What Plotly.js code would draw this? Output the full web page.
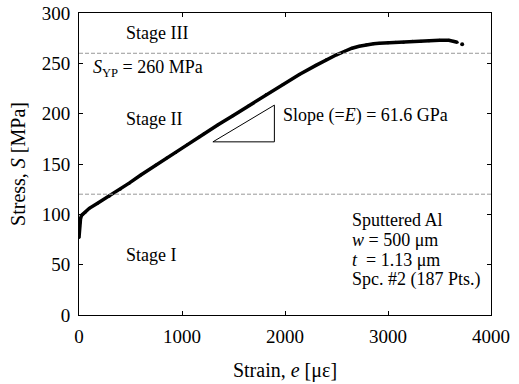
<!DOCTYPE html>
<html><head><meta charset="utf-8">
<script src="https://cdn.plot.ly/plotly-3.0.1.min.js"></script>
<style>html,body{margin:0;padding:0;background:#fff}#chart{width:519px;height:384px}</style>
</head><body><div id="chart"></div>
<script>
const strain = [0, 5, 10, 15, 25, 36, 60, 100, 180, 293, 400, 487, 600, 745, 850, 939, 1050, 1171, 1213, 1350, 1494, 1650, 1817, 1980, 2139, 2300, 2400, 2500, 2580, 2650, 2720, 2790, 2860, 2914, 3000, 3075, 3150, 3236, 3320, 3398, 3500, 3591, 3640, 3672];
const stress = [77, 88, 92, 96, 99, 100, 102, 106, 111, 118, 125, 131, 139, 149, 156, 161.5, 169, 177, 180, 189, 198, 208, 219, 229, 239, 248, 253.5, 258.5, 262, 265, 267, 268.5, 269.5, 270, 270.5, 271, 271, 272, 272, 272.5, 273, 273, 272, 271];
const lastStrain = [3720];
const lastStress = [269];
const stageBounds = [120, 260];
const xRange = [0, 4000];
const yRange = [0, 300];
const xTicks = [0, 1000, 2000, 3000, 4000];
const yTicks = [0, 50, 100, 150, 200, 250, 300];
const triStrain = [1300, 1897, 1897, 1300];
const triStress = [172, 172, 208.5, 172];

const font = {family: 'Liberation Serif, Times New Roman, serif', color: '#000'};
const traces = [
  {x: strain, y: stress, mode: 'lines+markers', line: {color: '#000', width: 3.5}, marker: {color: '#000', size: 3}, hoverinfo: 'skip'},
  {x: lastStrain, y: lastStress, mode: 'markers', marker: {color: '#000', size: 4}, hoverinfo: 'skip'},
  {x: triStrain, y: triStress, mode: 'lines', line: {color: '#000', width: 1}, hoverinfo: 'skip'}
];
const shapes = stageBounds.map(v => ({type: 'line', xref: 'paper', x0: 0, x1: 1, yref: 'y', y0: v, y1: v, line: {color: '#999', width: 1, dash: '4px,2px'}}));
function ann(x, y, text, xanchor) {
  return {x: x, y: y, xref: 'x', yref: 'y', text: text, showarrow: false, xanchor: xanchor || 'center', yanchor: 'middle', font: Object.assign({size: 18}, font)};
}
const annotations = [
  ann(755, 280, 'Stage III'),
  ann(120, 245, '<i>S</i><sub>YP</sub> = 260 MPa', 'left'),
  ann(725, 195, 'Stage II'),
  ann(1960, 198, 'Slope (=<i>E</i>) = 61.6 GPa', 'left'),
  ann(697, 60, 'Stage I'),
  ann(2630, 94, 'Sputtered Al', 'left'),
  ann(2630, 74.5, '<i>w</i> = 500 μm', 'left'),
  ann(2630, 54.6, '<i>t</i>  = 1.13 μm', 'left'),
  ann(2630, 34.8, 'Spc. #2 (187 Pts.)', 'left')
];
const axisCommon = {showgrid: false, zeroline: false, showline: true, linecolor: '#000', linewidth: 1, mirror: 'ticks', ticks: 'inside', ticklen: 4, tickcolor: '#000', tickfont: Object.assign({size: 19}, font)};
const layout = {
  width: 519, height: 384,
  margin: {l: 79, r: 28, t: 13, b: 69},
  paper_bgcolor: '#fff', plot_bgcolor: '#fff',
  showlegend: false,
  font: font,
  xaxis: Object.assign({}, axisCommon, {range: xRange, tickvals: xTicks, ticklabelstandoff: 4, title: {text: 'Strain, <i>e</i> [με]', font: Object.assign({size: 20}, font), standoff: 17}}),
  yaxis: Object.assign({}, axisCommon, {range: yRange, tickvals: yTicks, ticklabelstandoff: 4, title: {text: 'Stress, <i>S</i> [MPa]', font: Object.assign({size: 20}, font), standoff: 10}}),
  shapes: shapes,
  annotations: annotations
};
Plotly.newPlot('chart', traces, layout, {displayModeBar: false, staticPlot: true});
</script></body></html>
